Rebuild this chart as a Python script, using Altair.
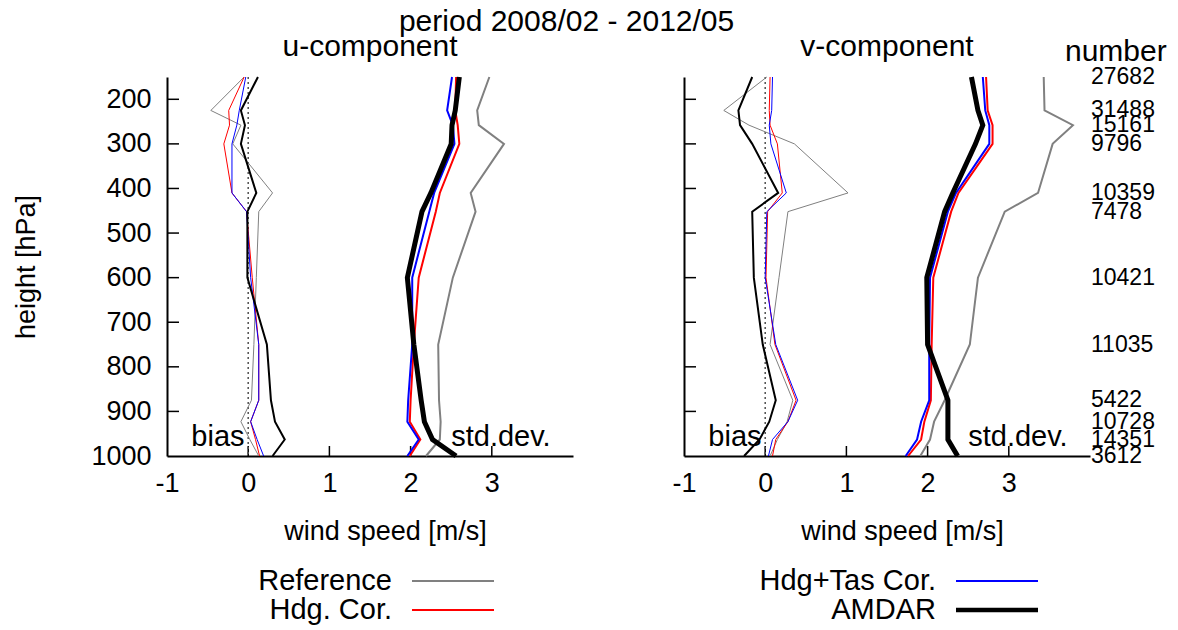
import altair as alt
import pandas as pd

# Pressure levels (hPa) and number of AMDAR reports per level
levels = [150, 225, 258, 300, 410, 452, 600, 750, 875, 923, 963, 1000]
counts = [27682, 31488, 15161, 9796, 10359, 7478, 10421, 11035, 5422, 10728, 14351, 3612]

series_names = ["Reference", "Hdg. Cor.", "Hdg+Tas Cor.", "AMDAR"]
series_colors = ["#808080", "#ff0000", "#0000ff", "#000000"]

# u-component statistics (m/s)
u_bias_ref = [-0.05, -0.46, -0.09, -0.19, 0.30, 0.13, 0.10, 0.07, 0.04, -0.09, 0.02, 0.13]
u_bias_hdg = [-0.05, -0.24, -0.23, -0.30, -0.20, -0.02, 0.05, 0.13, 0.13, 0.03, 0.09, 0.14]
u_bias_tas = [-0.03, -0.11, -0.14, -0.20, -0.20, -0.02, 0.03, 0.13, 0.13, 0.03, 0.11, 0.19]
u_bias_amd = [0.12, -0.09, -0.04, -0.09, 0.10, -0.01, -0.01, 0.23, 0.28, 0.33, 0.45, 0.30]
u_std_ref = [2.97, 2.82, 2.84, 3.15, 2.74, 2.80, 2.52, 2.34, 2.35, 2.37, 2.36, 2.19]
u_std_hdg = [2.56, 2.55, 2.58, 2.60, 2.36, 2.31, 2.10, 2.04, 2.00, 1.99, 2.12, 1.99]
u_std_tas = [2.51, 2.45, 2.52, 2.54, 2.29, 2.23, 2.02, 2.02, 1.97, 1.96, 2.10, 1.96]
u_std_amd = [2.60, 2.55, 2.51, 2.50, 2.25, 2.14, 1.96, 2.04, 2.13, 2.17, 2.27, 2.56]

# v-component statistics (m/s)
v_bias_ref = [0.02, -0.51, -0.20, 0.36, 1.02, 0.28, 0.17, 0.06, 0.34, 0.27, 0.15, 0.06]
v_bias_hdg = [0.06, 0.05, 0.06, 0.15, 0.21, 0.03, 0.01, 0.12, 0.38, 0.28, 0.13, 0.09]
v_bias_tas = [0.09, 0.08, 0.05, 0.07, 0.26, 0.02, 0.00, 0.13, 0.40, 0.28, 0.09, 0.04]
v_bias_amd = [-0.16, -0.33, -0.31, -0.16, 0.16, -0.16, -0.14, -0.03, 0.13, 0.05, -0.07, -0.26]
v_std_ref = [3.43, 3.44, 3.79, 3.54, 3.36, 2.95, 2.62, 2.52, 2.21, 2.08, 2.03, 1.91]
v_std_hdg = [2.72, 2.74, 2.80, 2.80, 2.38, 2.29, 2.07, 2.05, 2.04, 1.96, 1.92, 1.76]
v_std_tas = [2.68, 2.71, 2.76, 2.76, 2.35, 2.25, 2.03, 2.02, 2.02, 1.92, 1.87, 1.73]
v_std_amd = [2.54, 2.62, 2.68, 2.59, 2.31, 2.21, 1.99, 2.00, 2.25, 2.25, 2.25, 2.37]

x_ticks = [-1, 0, 1, 2, 3]
y_ticks = [200, 300, 400, 500, 600, 700, 800, 900, 1000]

FONT = "Liberation Sans"
W, H = 406, 379
BIAS_W = [1, 1, 1, 2]
STD_W = [2, 2, 2, 5]

u_data = {
    "bias": [u_bias_ref, u_bias_hdg, u_bias_tas, u_bias_amd],
    "std": [u_std_ref, u_std_hdg, u_std_tas, u_std_amd],
}
v_data = {
    "bias": [v_bias_ref, v_bias_hdg, v_bias_tas, v_bias_amd],
    "std": [v_std_ref, v_std_hdg, v_std_tas, v_std_amd],
}

x_scale = alt.Scale(domain=[-1, 4], nice=False, zero=False)
y_scale = alt.Scale(domain=[150, 1000], reverse=True, nice=False, zero=False)

# legend layout inside each panel: text right edge, line start, line end
legend_x = {True: (225, 245, 327), False: (252, 272, 354)}


def text_layer(label, x, y, size=30, align="center"):
    return alt.Chart(pd.DataFrame({"t": [label]})).mark_text(
        align=align, baseline="middle", font=FONT, fontSize=size, color="black").encode(
        text="t:N", x=alt.value(x), y=alt.value(y))


def profile_layer(values, color, width):
    df = pd.DataFrame({"pressure": levels, "value": values})
    return alt.Chart(df).mark_line(color=color, strokeWidth=width, strokeJoin="miter").encode(
        x=alt.X("value:Q", scale=x_scale),
        y=alt.Y("pressure:Q", scale=y_scale),
        order=alt.Order("pressure:Q"),
    )


def panel(data, title, show_y, legend_items):
    xaxis = alt.Axis(values=x_ticks, title="wind speed [m/s]", ticks=False,
                     labelPadding=14, titlePadding=22, labelFlush=False,
                     titleX=W / 2 + 15, titleAlign="center",
                     labelExpr="'' + datum.value")
    if show_y:
        yaxis = alt.Axis(values=y_ticks, title="height [hPa]", ticks=False,
                         labelPadding=16, titlePadding=50, labelExpr="'' + datum.value")
    else:
        yaxis = alt.Axis(values=y_ticks, title=None, ticks=False, labels=False)

    layers = []
    # axis ticks pointing into the plot
    ytick_df = pd.DataFrame({"p": y_ticks[:-1]})
    layers.append(alt.Chart(ytick_df).mark_rule(color="black", strokeWidth=1.5).encode(
        y=alt.Y("p:Q", scale=y_scale, axis=yaxis), x=alt.value(0), x2=alt.value(12)))
    xtick_df = pd.DataFrame({"v": x_ticks[1:]})
    layers.append(alt.Chart(xtick_df).mark_rule(color="black", strokeWidth=1.5).encode(
        x=alt.X("v:Q", scale=x_scale, axis=xaxis), y=alt.value(H), y2=alt.value(H - 10)))
    # zero line
    layers.append(alt.Chart(pd.DataFrame({"z": [0]})).mark_rule(
        color="#505050", strokeWidth=1.5, strokeDash=[2, 3]).encode(
        x=alt.X("z:Q", scale=x_scale)))
    # bias profiles (thin) and standard deviation profiles (thick)
    for k, col in enumerate(series_colors):
        layers.append(profile_layer(data["bias"][k], col, BIAS_W[k]))
    for k, col in enumerate(series_colors):
        layers.append(profile_layer(data["std"][k], col, STD_W[k]))
    # bias / std.dev. captions
    cap_df = pd.DataFrame({"t": ["bias", "std.dev."], "x": [-0.7, 2.5], "p": [958, 958]})
    layers.append(alt.Chart(cap_df).mark_text(
        align="left", baseline="middle", font=FONT, fontSize=29).encode(
        x=alt.X("x:Q", scale=x_scale), y=alt.Y("p:Q", scale=y_scale), text="t:N"))
    # panel heading
    layers.append(text_layer(title, W / 2, -30))
    # legend entries below the plot
    lx = legend_x[show_y]
    for i, (name, col, w) in enumerate(legend_items):
        yy = 504 + 29 * i
        layers.append(text_layer(name, lx[0], yy, size=29, align="right"))
        layers.append(alt.Chart(pd.DataFrame({"t": [name]})).mark_rule(
            color=col, strokeWidth=w).encode(
            x=alt.value(lx[1]), x2=alt.value(lx[2]), y=alt.value(yy)))
    if not show_y:
        num_df = pd.DataFrame({"pressure": levels, "n": counts})
        layers.append(alt.Chart(num_df).mark_text(
            align="left", baseline="middle", font=FONT, fontSize=23).encode(
            x=alt.value(W + 1), y=alt.Y("pressure:Q", scale=y_scale), text="n:N"))
        layers.append(text_layer("number", W - 25, -25, align="left"))

    return alt.layer(*layers).properties(width=W, height=H)


left = panel(u_data, "u-component", True,
             [("Reference", series_colors[0], 2), ("Hdg. Cor.", series_colors[1], 2)])
right = panel(v_data, "v-component", False,
              [("Hdg+Tas Cor.", series_colors[2], 2), ("AMDAR", series_colors[3], 4.5)])

chart = alt.hconcat(left, right, spacing=98).properties(
    title=alt.TitleParams("period 2008/02 - 2012/05", anchor="start", dx=386,
                          fontSize=30, font=FONT, fontWeight="normal", offset=-5,
                          color="black"),
    padding={"left": 12, "top": 7, "right": 5, "bottom": 5},
    background="white",
).configure_view(strokeWidth=0).configure_axis(
    domainColor="black", domainWidth=2, grid=False,
    labelFont=FONT, labelFontSize=27, labelColor="black",
    titleFont=FONT, titleFontSize=27, titleColor="black", titleFontWeight="normal",
)

chart.save("out.html", embed_options={"renderer": "svg", "actions": False})
